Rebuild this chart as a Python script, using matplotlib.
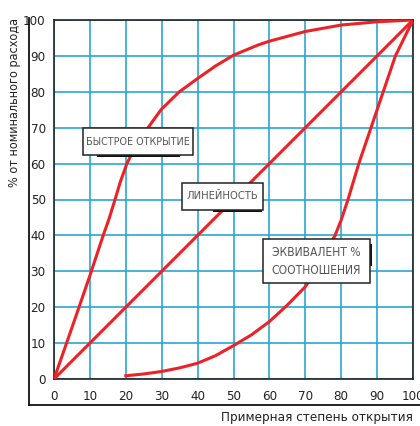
import matplotlib
matplotlib.use("Agg")
import matplotlib.pyplot as plt
from matplotlib import font_manager as fm
from matplotlib.lines import Line2D
from matplotlib.patches import Rectangle

# data
lin_x = [0, 100]
lin_y = [0, 100]

quick_x = [0, 5, 10, 13.7, 15.3, 17, 18.5, 20.3, 21.8, 23.3, 26.2, 29.8, 34.9, 40, 45, 50, 57, 60, 70, 80, 90, 100]
quick_y = [0, 14.3, 28.8, 40, 44.5, 50, 55, 60, 63, 65.6, 70, 75, 80, 83.7, 87.2, 90.2, 93.1, 94.1, 96.8, 98.6, 99.5, 100]

eq_x = [20, 25, 30, 35, 40, 45, 50, 55, 60, 65, 70, 72.8, 75, 78.3, 80, 81.9, 84.9, 88.3, 91.7, 95.1, 100]
eq_y = [0.9, 1.4, 2.1, 3.1, 4.4, 6.5, 9.3, 12.3, 16, 20.6, 25.7, 30, 34.2, 40, 44.3, 50, 60, 70, 80, 90, 100]

ticks = list(range(0, 101, 10))
labels = {
    "quick": "БЫСТРОЕ ОТКРЫТИЕ",
    "linear": "ЛИНЕЙНОСТЬ",
    "equal": "ЭКВИВАЛЕНТ %\nСООТНОШЕНИЯ",
}

# the original uses a condensed face; take one if the system has it
family, stretch = "Roboto", "normal"
for fam in ["Noto Sans", "Open Sans", "DejaVu Sans", "Roboto"]:
    path = fm.findfont(fm.FontProperties(family=fam, stretch="condensed"),
                       fallback_to_default=False)
    if "ondensed" in path or "arrow" in path:
        family, stretch = fam, "condensed"
        break
plt.rcParams["font.family"] = [family, "DejaVu Sans"]
plt.rcParams["font.stretch"] = stretch

RED = "#ec2227"
BLUE = "#2aa6d6"
TXT = "#222222"
GRAY = "#555555"

fig = plt.figure(figsize=(4.2, 4.26), dpi=100)
ax = fig.add_axes([54 / 420, 1 - 379 / 426, 359 / 420, 359 / 426])
renderer = fig.canvas.get_renderer()


def fit(t, width_px, max_size):
    # shrink a text until it fits the width it has in the reference
    w = t.get_window_extent(renderer).width
    size = t.get_fontsize() * width_px / w
    t.set_fontsize(min(size, max_size))


ax.set_xlim(0, 100)
ax.set_ylim(0, 100)
ax.set_xticks(ticks)
ax.set_yticks(ticks)
ax.grid(True, color=BLUE, lw=1.2)
ax.set_axisbelow(True)
ax.tick_params(length=0, labelsize=9.5, labelcolor=TXT, pad=6)
ax.tick_params(axis="x", pad=8)
for s in ax.spines.values():
    s.set_color("#222222")
    s.set_linewidth(1.2)

ax.plot(lin_x, lin_y, color=RED, lw=2.2, solid_capstyle="butt", zorder=3)
ax.plot(quick_x, quick_y, color=RED, lw=2.2, zorder=3)
ax.plot(eq_x, eq_y, color=RED, lw=2.2, zorder=3)


def label_box(x0, x1, y0, y1, text, shadow, width_px):
    # shadow is a thin dark bar peeking out from behind the box
    sx0, sx1, sy0, sy1 = shadow
    ax.add_patch(Rectangle((sx0, sy0), sx1 - sx0, sy1 - sy0, fc="#111111",
                           ec="none", zorder=4))
    ax.add_patch(Rectangle((x0, y0), x1 - x0, y1 - y0, fc="white",
                           ec="#222222", lw=1.1, zorder=5))
    t = ax.text((x0 + x1) / 2, (y0 + y1) / 2, text, ha="center", va="center",
                fontsize=10, color=GRAY, linespacing=1.5, zorder=6)
    fit(t, width_px, 10)


label_box(8.1, 38.7, 62.4, 69.9, labels["quick"], (12.0, 35.1, 61.7, 62.4), 103)
label_box(35.7, 58.2, 47.1, 54.6, labels["linear"], (44.3, 58.0, 46.5, 47.1), 72)
label_box(58.2, 88.0, 26.7, 39.0, labels["equal"], (88.0, 88.7, 31.5, 37.6), 90)

ylab = fig.text(15 / 420, 1 - 18 / 426, "% от номинального расхода", rotation=90,
                ha="center", va="top", fontsize=11, color=TXT)
xlab = fig.text(413 / 420, 1 - 418 / 426, "Примерная степень открытия",
                ha="right", va="center", fontsize=11, color=TXT)
fig.canvas.draw()
w = ylab.get_window_extent(renderer).height
ylab.set_fontsize(min(11, 11 * 168 / w))
fit(xlab, 192, 11)

# outer L-shaped frame
fig.add_artist(Line2D([29 / 420, 29 / 420], [1 - 405 / 426, 1 - 18 / 426],
                      color="#111111", lw=1.3))
fig.add_artist(Line2D([29 / 420, 1.0], [1 - 405 / 426, 1 - 405 / 426],
                      color="#111111", lw=1.3))

fig.savefig("out.png", dpi=100)
